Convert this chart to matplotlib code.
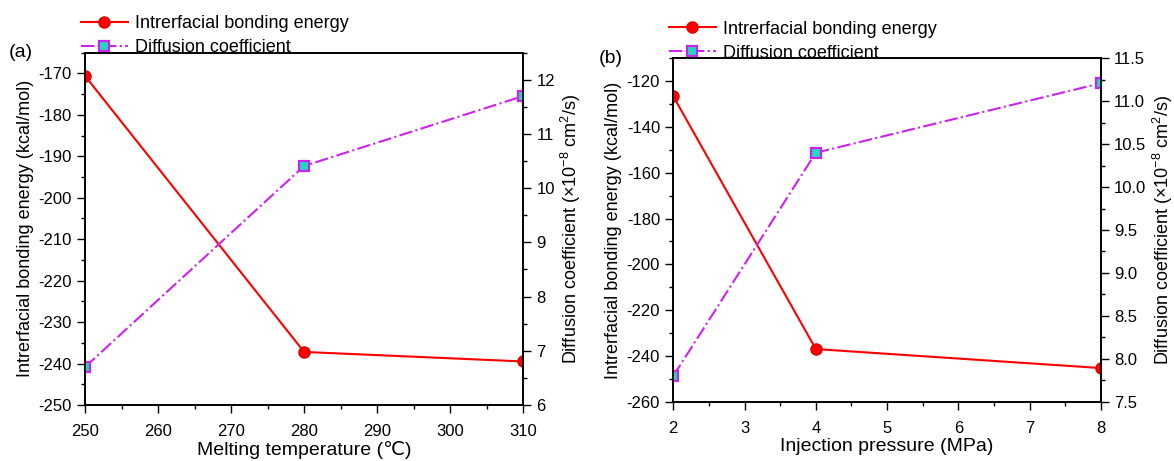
import matplotlib.pyplot as plt
from matplotlib.ticker import MultipleLocator

plt.rcParams['font.family'] = ['Liberation Sans', 'DejaVu Sans']
plt.rcParams['mathtext.default'] = 'regular'
plt.rcParams['axes.unicode_minus'] = False
plt.rcParams['font.size'] = 12

# panel (a): melting temperature
temp = [250, 280, 310]
energy_a = [-170.6, -237.2, -239.5]
diff_a = [6.70, 10.41, 11.70]

# panel (b): injection pressure
pressure = [2, 4, 8]
energy_b = [-126.6, -237.0, -245.3]
diff_b = [7.80, 10.40, 11.21]

red = '#FF0000'
mag = '#CC22EE'
teal = '#22D8C0'

fig = plt.figure(figsize=(11.74, 4.61), dpi=100)
axa = fig.add_axes([0.0724, 0.1215, 0.3733, 0.7642])
axb = fig.add_axes([0.5735, 0.1286, 0.3643, 0.7449])


def draw(ax, x, en, df, xlim, ylim_l, ylim_r, xmaj, lmaj, rmaj, xlabel, tag):
    ax2 = ax.twinx()
    l1, = ax.plot(x, en, '-', color=red, lw=1.5, marker='o', ms=8,
                  mfc=red, mec='#DD0000', label='Intrerfacial bonding energy')
    l2, = ax2.plot(x, df, '-.', color=mag, lw=1.5, marker='s', ms=7,
                   mfc=teal, mec=mag, mew=1.6, label='Diffusion coefficient')
    ax.set_xlim(*xlim)
    ax.set_ylim(*ylim_l)
    ax2.set_ylim(*ylim_r)
    ax.xaxis.set_major_locator(MultipleLocator(xmaj))
    ax.xaxis.set_minor_locator(MultipleLocator(xmaj / 2))
    ax.yaxis.set_major_locator(MultipleLocator(lmaj))
    ax.yaxis.set_minor_locator(MultipleLocator(lmaj / 2))
    ax2.yaxis.set_major_locator(MultipleLocator(rmaj))
    ax2.yaxis.set_minor_locator(MultipleLocator(rmaj / 2))
    for a in (ax, ax2):
        a.tick_params(which='major', direction='out', length=6, width=1, labelsize=12)
        a.tick_params(which='minor', direction='out', length=3, width=1)
        for s in a.spines.values():
            s.set_linewidth(1.2)
    ax.tick_params(axis='x', pad=8)
    ax.set_xlabel(xlabel, fontsize=14, labelpad=1)
    ax.set_ylabel('Intrerfacial bonding energy (kcal/mol)', fontsize=13, labelpad=3)
    ax2.set_ylabel('Diffusion coefficient (×10$^{-8}$ cm$^{2}$/s)', fontsize=13, labelpad=3)
    ax.legend(handles=[l1, l2], loc='lower left', bbox_to_anchor=(-0.01, 0.99),
              frameon=False, fontsize=13, handlelength=2.6, handletextpad=0.4,
              labelspacing=0.4, borderaxespad=0.0, borderpad=0.0)
    ax.text(-0.175, 1.0, tag, transform=ax.transAxes, fontsize=14,
            ha='left', va='center')
    return ax2


draw(axa, temp, energy_a, diff_a, (250, 310), (-250, -165), (6, 12.5),
     10, 10, 1, 'Melting temperature (℃)', '(a)')
draw(axb, pressure, energy_b, diff_b, (2, 8), (-260, -110), (7.5, 11.5),
     1, 20, 0.5, 'Injection pressure (MPa)', '(b)')

fig.savefig('out.png', dpi=100, facecolor='white')
